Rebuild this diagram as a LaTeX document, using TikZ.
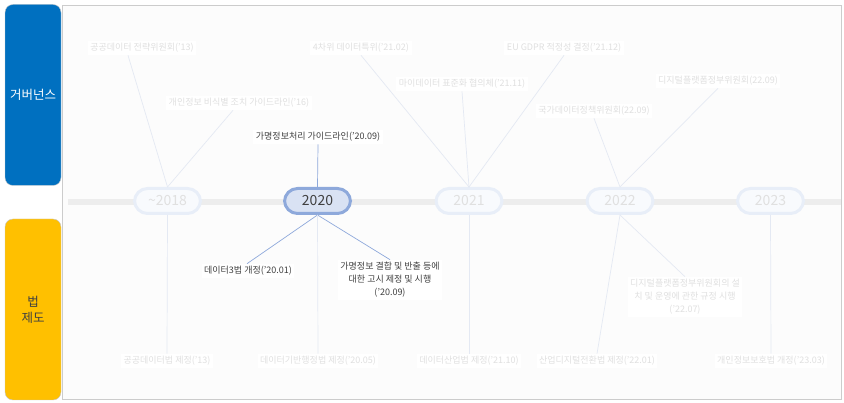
\documentclass[tikz,border=0pt]{standalone}
\usepackage{fontspec}
\setmainfont{Noto Sans CJK KR}
\usepackage{tikz}
\usetikzlibrary{calc}

\definecolor{govblue}{HTML}{0070C0}
\definecolor{lawyellow}{HTML}{FFC000}
\definecolor{darktext}{HTML}{404040}
\definecolor{fadetext}{HTML}{E0E0E0}
\definecolor{fadelink}{HTML}{E4E9F3}
\definecolor{fadeedge}{HTML}{E8EEF8}
\definecolor{fadefill}{HTML}{F8FAFD}
\definecolor{nowedge}{HTML}{8EA9DB}
\definecolor{nowfill}{HTML}{D9E2F3}
\definecolor{panelbg}{HTML}{FCFCFC}

\tikzset{
  sidebox/.style={draw=gray!45, rounded corners=8pt, minimum width=56pt,
    minimum height=181pt, align=center, font=\fontsize{12.5}{16}\selectfont},
  yearbox/.style={draw=fadeedge, line width=3pt, fill=fadefill, rounded corners=13pt,
    minimum width=66pt, minimum height=25pt, text=fadetext, font=\fontsize{14}{16}\selectfont},
  yearnow/.style={yearbox, draw=nowedge, fill=nowfill, text=darktext},
  evt/.style={fill=white, inner sep=2.5pt, text=fadetext, align=center,
    font=\fontsize{9}{13}\selectfont},
  evtnow/.style={evt, text=darktext},
  lnk/.style={draw=fadelink, line width=0.7pt},
  lnknow/.style={draw=nowedge, line width=0.7pt}
}

\begin{document}
\begin{tikzpicture}[x=1pt,y=-1pt]
\useasboundingbox (0,0) rectangle (844,403);
\draw[draw=gray!40, fill=panelbg] (62,5) rectangle (841,399);
\draw[line width=6pt, draw=gray!14] (68,202) -- (841,202);

\node[sidebox, fill=govblue, text=white] (gov) at (33,95) {거버넌스};
\node[sidebox, fill=lawyellow, text=darktext] (law) at (33,309.5) {법\\제도};

\node[yearbox] (y2018) at (167.5,201) {\textasciitilde2018};
\node[yearnow] (y2020) at (317.5,201) {2020};
\node[yearbox] (y2021) at (469,201) {2021};
\node[yearbox] (y2022) at (620,201) {2022};
\node[yearbox] (y2023) at (770.5,201) {2023};

\node[evt] (g13) at (142,48) {공공데이터 전략위원회('13)};
\node[evt] (g16) at (239,103) {개인정보 비식별 조치 가이드라인('16)};
\node[evtnow] (g2009) at (318,137) {가명정보처리 가이드라인('20.09)};
\node[evt] (g2102) at (361,48) {4차위 데이터특위('21.02)};
\node[evt] (g2111) at (462,84) {마이데이터 표준화 협의체('21.11)};
\node[evt] (g2112) at (564,48) {EU GDPR 적정성 결정('21.12)};
\node[evt] (g2209) at (594,111) {국가데이터정책위원회(22.09)};
\node[evt] (g2209b) at (718,81) {디지털플랫폼정부위원회(22.09)};

\node[evt] (l13) at (167,361) {공공데이터법 제정('13)};
\node[evtnow] (l2001) at (248,271) {데이터3법 개정('20.01)};
\node[evtnow] (l2009) at (390,280) {가명정보 결합 및 반출 등에\\대한 고시 제정 및 시행\\('20.09)};
\node[evt] (l2005) at (318,361) {데이터기반행정법 제정('20.05)};
\node[evt] (l2110) at (469,361) {데이터산업법 제정('21.10)};
\node[evt] (l2201) at (597,361) {산업디지털전환법 제정('22.01)};
\node[evt] (l2207) at (685,297) {디지털플랫폼정부위원회의 설\\치 및 운영에 관한 규정 시행\\('22.07)};
\node[evt] (l2303) at (771,361) {개인정보보호법 개정('23.03)};

\draw[lnk] ([xshift=-14pt]g13.south) -- (y2018.north);
\draw[lnk] ([xshift=-6pt]g16.south) -- (y2018.north);
\draw[lnknow] (g2009.south) -- (y2020.north);
\draw[lnk] (g2102.south) -- (y2021.north);
\draw[lnk] (g2111.south) -- (y2021.north);
\draw[lnk] (g2112.south) -- (y2021.north);
\draw[lnk] (g2209.south) -- (y2022.north);
\draw[lnk] (g2209b.south) -- (y2022.north);

\draw[lnk] (y2018.south) -- (l13.north);
\draw[lnknow] (y2020.south) -- ([xshift=-1pt]l2001.north);
\draw[lnknow] (y2020.south) -- (l2009.north);
\draw[lnk] (y2020.south) -- (l2005.north);
\draw[lnk] (y2021.south) -- (l2110.north);
\draw[lnk] (y2022.south) -- (l2201.north);
\draw[lnk] (y2022.south) -- (l2207.north);
\draw[lnk] (y2023.south) -- (l2303.north);
\end{tikzpicture}
\end{document}
